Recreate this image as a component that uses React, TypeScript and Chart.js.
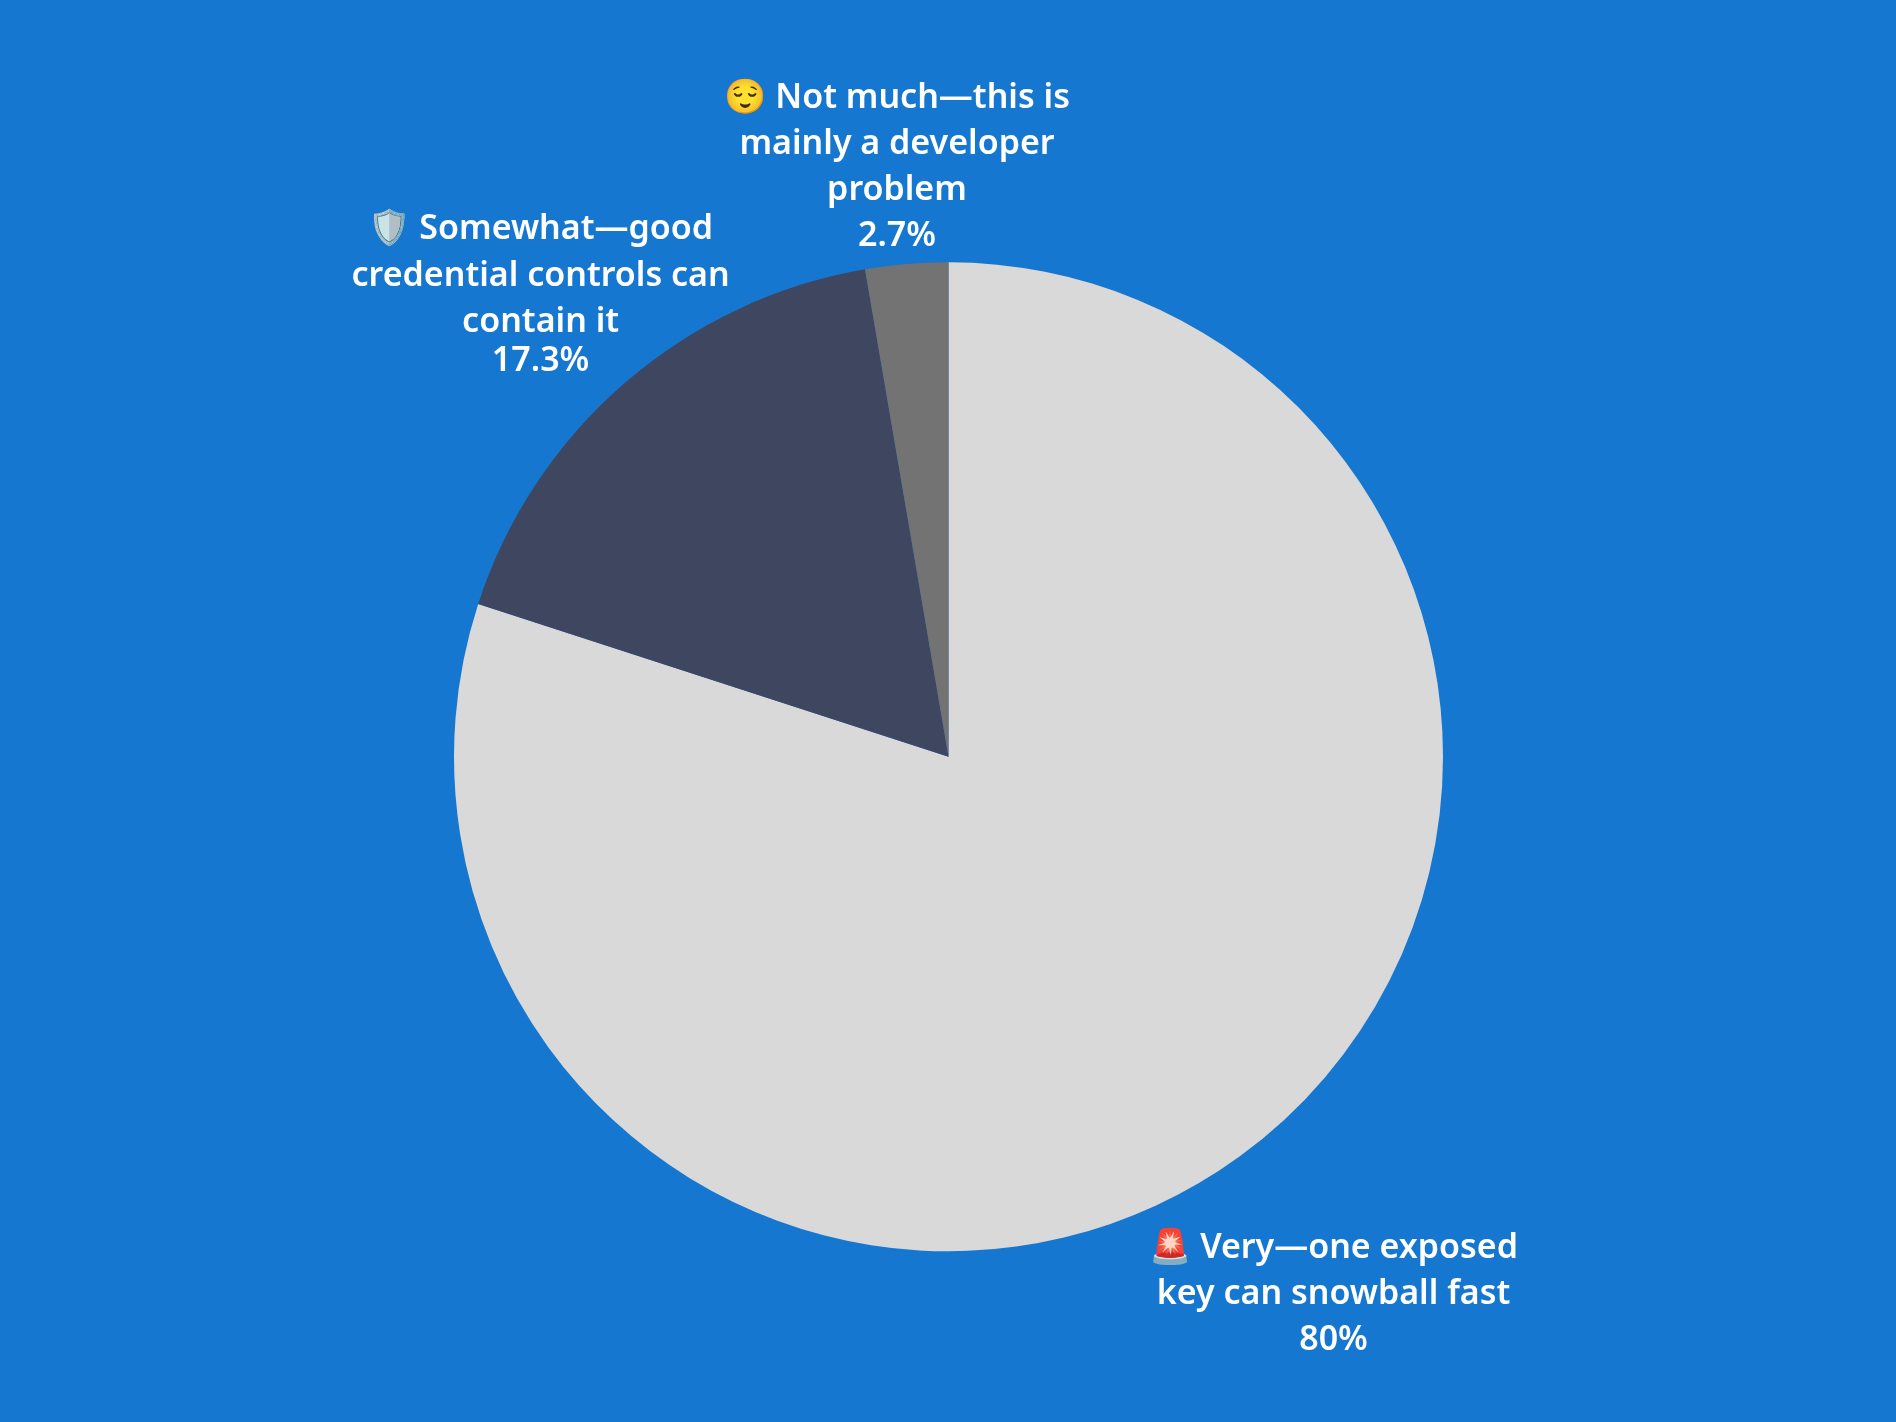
import React, { useEffect, useRef } from "react";
import { Chart, registerables } from "chart.js";

Chart.register(...registerables);

const categories = [
  "🚨 Very—one exposed key can snowball fast",
  "🛡️ Somewhat—good credential controls can contain it",
  "😌 Not much—this is mainly a developer problem",
];
const values = [80, 17.3, 2.7];
const valueLabels = ["80%", "17.3%", "2.7%"];
const sliceColors = ["#d9d9d9", "#3f4660", "#737373"];
const labelLines = [
  ["🚨 Very—one exposed", "key can snowball fast"],
  ["🛡️ Somewhat—good", "credential controls can", "contain it"],
  ["😌 Not much—this is", "mainly a developer", "problem"],
];
const labelCenterX = [1333.5, 540.6, 897];
const labelLineY = [
  [1248, 1294, 1340],
  [229, 276, 322, 361],
  [98.5, 144.5, 190.4, 236.3],
];

const FONT = '600 34px "Noto Sans", "Noto Color Emoji", sans-serif';

const labelPlugin = {
  id: "sliceLabels",
  afterDatasetsDraw(chart: any) {
    const { ctx } = chart;
    ctx.save();
    ctx.font = FONT;
    ctx.fillStyle = "#ffffff";
    ctx.textAlign = "center";
    ctx.textBaseline = "middle";
    labelLines.forEach((lines, i) => {
      [...lines, valueLabels[i]].forEach((text, j) => {
        ctx.fillText(text, labelCenterX[i], labelLineY[i][j]);
      });
    });
    ctx.restore();
  },
};

export default function App() {
  const ref = useRef<HTMLCanvasElement | null>(null);
  useEffect(() => {
    document.body.style.margin = "0";
    document.body.style.background = "#1577d0";
    const chart = new Chart(ref.current!, {
      type: "pie",
      data: {
        labels: categories,
        datasets: [{ data: values, backgroundColor: sliceColors, borderWidth: 0 }],
      },
      options: {
        responsive: false,
        animation: false,
        layout: { padding: { top: 262, bottom: 170.5, left: 454, right: 453 } },
        plugins: { legend: { display: false }, tooltip: { enabled: false } },
      },
      plugins: [labelPlugin],
    });
    return () => chart.destroy();
  }, []);
  return (
    <div style={{ width: 1896, height: 1422, background: "#1577d0" }}>
      <canvas ref={ref} width={1896} height={1422} style={{ display: "block", width: 1896, height: 1422 }} />
    </div>
  );
}
